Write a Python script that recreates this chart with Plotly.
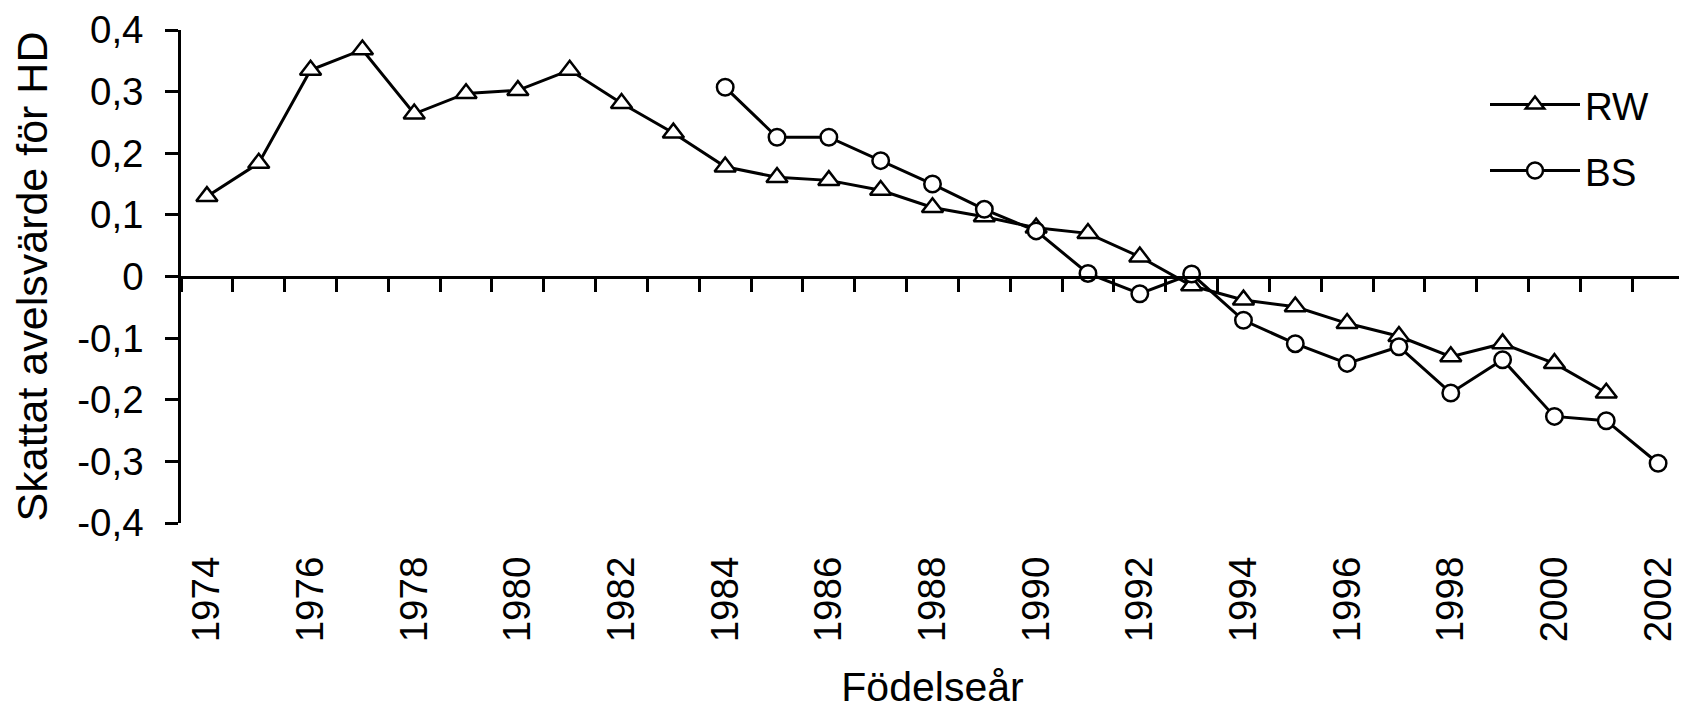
import plotly.graph_objects as go

# Födelseår (birth years) on the category axis
years = list(range(1974, 2003))

# Skattat avelsvärde för HD
rw_years = list(range(1974, 2002))
rw_values = [0.130, 0.184, 0.335, 0.368, 0.264, 0.297, 0.302, 0.335, 0.281, 0.233,
             0.178, 0.161, 0.156, 0.140, 0.112, 0.097, 0.079, 0.070, 0.032, -0.015,
             -0.038, -0.049, -0.076, -0.097, -0.130, -0.109, -0.141, -0.189]

bs_years = list(range(1984, 2003))
bs_values = [0.307, 0.226, 0.226, 0.188, 0.150, 0.109, 0.074, 0.005, -0.028, 0.004,
             -0.071, -0.109, -0.141, -0.114, -0.189, -0.135, -0.227, -0.234, -0.303]

y_ticks = [-0.4, -0.3, -0.2, -0.1, 0, 0.1, 0.2, 0.3, 0.4]
y_labels = ["-0,4", "-0,3", "-0,2", "-0,1", "0", "0,1", "0,2", "0,3", "0,4"]
x_label_years = years[::2]

FONT = "Liberation Sans, Arial, sans-serif"

fig = go.Figure()

fig.add_trace(go.Scatter(
    x=rw_years, y=rw_values, name="RW", legendgroup="rw",
    mode="lines+markers",
    line=dict(color="black", width=3),
    marker=dict(symbol="triangle-up", size=18.5, color="white",
                line=dict(color="black", width=2.5)),
))
# BS sits on the overlay axis so that the zero-line axis gets drawn
fig.add_trace(go.Scatter(
    x=bs_years, y=bs_values, name="BS", legendgroup="bs",
    xaxis="x2",
    mode="lines+markers",
    line=dict(color="black", width=3),
    marker=dict(symbol="circle", size=16.5, color="white",
                line=dict(color="black", width=2.5)),
))

x_range = [years[0] - 0.5, years[-1] + 0.5]

# the page body has an 8px margin, so the figure is a bit smaller than the window
fig.update_layout(
    width=1679, height=702,
    margin=dict(l=173, r=3, t=22, b=187),
    paper_bgcolor="white", plot_bgcolor="white",
    font=dict(family=FONT, size=38.5, color="black"),
    showlegend=True,
    legend=dict(x=0.8676, y=0.9128, xanchor="left", yanchor="top",
                bgcolor="rgba(0,0,0,0)", font=dict(size=38.5),
                itemwidth=90, tracegroupgap=13),
    # bottom axis: only the rotated year labels
    xaxis=dict(
        range=x_range, showline=False, showgrid=False, zeroline=False,
        automargin=False,
        ticks="", tickmode="array", tickvals=x_label_years,
        ticktext=[str(v) for v in x_label_years], tickangle=-90,
        ticklabelstandoff=25,
        title=dict(text="Födelseår", font=dict(size=41), standoff=30),
    ),
    # axis line with category ticks, crossing at zero
    xaxis2=dict(
        range=x_range, overlaying="x", anchor="free", position=0.5,
        showline=True, linecolor="black", linewidth=2.5, automargin=False,
        showgrid=False, zeroline=False, showticklabels=False,
        ticks="outside", ticklen=14, tickwidth=2.5, tickcolor="black",
        tickmode="array", tickvals=[y - 0.5 for y in years] + [years[-1] + 0.5],
    ),
    yaxis=dict(
        range=[-0.4, 0.4], showline=True, linecolor="black", linewidth=2.5,
        showgrid=False, zeroline=False, automargin=False,
        ticks="outside", ticklen=13, tickwidth=2.5, tickcolor="black",
        tickmode="array", tickvals=y_ticks, ticktext=y_labels,
        ticklabelstandoff=14, ticklabeloverflow="allow",
        title=dict(text="Skattat avelsvärde för HD", font=dict(size=43), standoff=35),
    ),
)

fig.write_html("out.html")
